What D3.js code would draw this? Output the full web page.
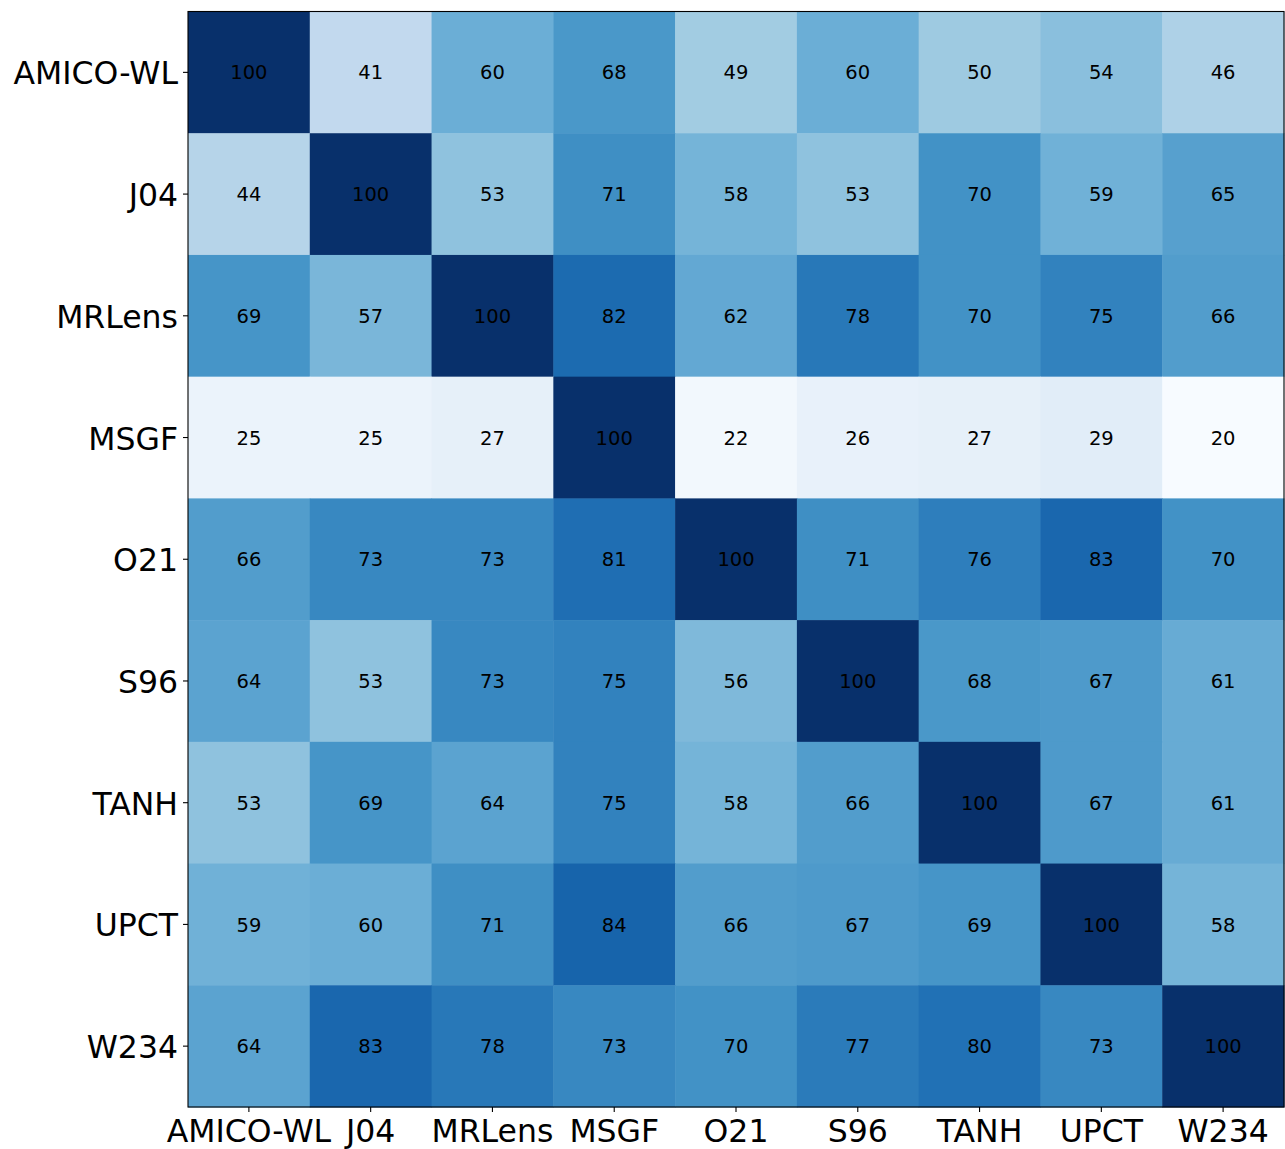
<!DOCTYPE html>
<html><head><meta charset="utf-8">
<script src="https://cdn.jsdelivr.net/npm/d3@7"></script>
<style>body{margin:0;background:#fff;} svg{display:block;}</style>
</head><body>
<script>
const rowLabels = ["AMICO-WL","J04","MRLens","MSGF","O21","S96","TANH","UPCT","W234"];
const colLabels = ["AMICO-WL","J04","MRLens","MSGF","O21","S96","TANH","UPCT","W234"];
const values = [
  [100,41,60,68,49,60,50,54,46],
  [44,100,53,71,58,53,70,59,65],
  [69,57,100,82,62,78,70,75,66],
  [25,25,27,100,22,26,27,29,20],
  [66,73,73,81,100,71,76,83,70],
  [64,53,73,75,56,100,68,67,61],
  [53,69,64,75,58,66,100,67,61],
  [59,60,71,84,66,67,69,100,58],
  [64,83,78,73,70,77,80,73,100]
];
const bluesStops = ["#f7fbff","#deebf7","#c6dbef","#9ecae1","#6baed6","#4292c6","#2171b5","#08519c","#08306b"];
const vmin = 20, vmax = 100;

const W = 1285, H = 1149;
const mLeft = 188, mTop = 11.5, mRight = 1284, mBottom = 1107;
const svg = d3.select("body").append("svg").attr("width", W).attr("height", H);

const x = d3.scaleBand().domain(colLabels).range([mLeft, mRight]);
const y = d3.scaleBand().domain(rowLabels).range([mTop, mBottom]);
const color = d3.scaleLinear()
  .domain(bluesStops.map((_, i) => vmin + (vmax - vmin) * i / (bluesStops.length - 1)))
  .range(bluesStops).clamp(true);

const cells = [];
values.forEach((row, i) => row.forEach((v, j) => cells.push({r: rowLabels[i], c: colLabels[j], v})));

svg.append("g").selectAll("rect").data(cells).join("rect")
  .attr("x", d => x(d.c)).attr("y", d => y(d.r))
  .attr("width", x.bandwidth() + 0.5).attr("height", y.bandwidth() + 0.5)
  .attr("fill", d => color(d.v));

svg.append("g").selectAll("text").data(cells).join("text")
  .attr("x", d => x(d.c) + x.bandwidth() / 2)
  .attr("y", d => y(d.r) + y.bandwidth() / 2)
  .attr("dy", "0.365em")
  .attr("text-anchor", "middle")
  .attr("font-family", "DejaVu Sans").attr("font-size", 19.5).attr("fill", "#000")
  .text(d => d.v);

svg.append("rect").attr("x", mLeft).attr("y", mTop).attr("width", mRight - mLeft).attr("height", mBottom - mTop)
  .attr("fill", "none").attr("stroke", "#000").attr("stroke-width", 1.1);

const xAxis = svg.append("g").attr("transform", `translate(0,${mBottom})`)
  .call(d3.axisBottom(x).tickSize(5).tickPadding(4));
const yAxis = svg.append("g").attr("transform", `translate(${mLeft},0)`)
  .call(d3.axisLeft(y).tickSize(5).tickPadding(5));
[xAxis, yAxis].forEach(g => {
  g.select(".domain").remove();
  g.selectAll("line").attr("stroke", "#000").attr("stroke-width", 1.1);
  g.selectAll("text").attr("font-family", "DejaVu Sans").attr("font-size", 31.5).attr("fill", "#000");
});
xAxis.selectAll("text").attr("dy", "0.82em");
yAxis.selectAll("text").attr("dy", "0.38em");
</script>
</body></html>
